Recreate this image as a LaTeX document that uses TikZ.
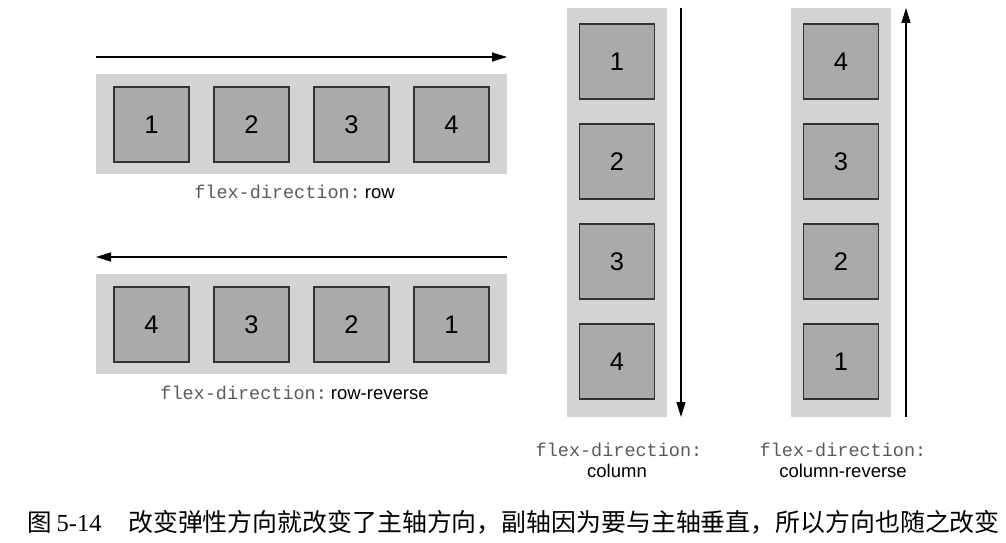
\documentclass[tikz,border=0pt]{standalone}
\usepackage{fontspec}
\setmainfont{Liberation Sans}
\newfontfamily\monof{Liberation Mono}
\newfontfamily\serif{Liberation Serif}
\newfontfamily\cjk{Noto Sans CJK SC}
\usetikzlibrary{arrows.meta}
\definecolor{cont}{HTML}{D3D3D3}
\definecolor{item}{HTML}{AAAAAA}
\definecolor{itemb}{HTML}{333333}
\definecolor{monoc}{HTML}{5A5A5A}
\tikzset{
  container/.style={fill=cont,draw=none,inner sep=0pt,outer sep=0pt},
  itembox/.style={fill=item,draw=itemb,line width=1.1pt,minimum size=75pt,inner sep=0pt,
    font=\fontsize{25.5}{28}\selectfont},
  axis/.style={line width=1.2pt,-{Triangle[length=15pt,width=9pt]}},
  lbl/.style={inner sep=0pt,font=\fontsize{18.5}{21}\selectfont,align=center},
}
\newcommand{\fd}{{\monof\color{monoc}flex-direction:}}
\begin{document}
\begin{tikzpicture}[x=1pt,y=-1pt]
\useasboundingbox (0,0) rectangle (1006,543);
% row
\node[container,minimum width=411pt,minimum height=100pt] (rowc) at (301.5,124) {};
\foreach \n/\x in {1/151.5,2/251.5,3/351.5,4/451.5}
  \node[itembox] (r\n) at (\x,124.5) {\n};
\coordinate (ra) at (96,57); \coordinate (rb) at (507,57);
\draw[axis] (ra) -- (rb);
\node[lbl,anchor=base] (rowl) at (294.5,198) {\fd\hspace{4pt}row};
% row-reverse
\node[container,minimum width=411pt,minimum height=100pt] (rrc) at (301.5,324) {};
\foreach \n/\x in {4/151.5,3/251.5,2/351.5,1/451.5}
  \node[itembox] (rr\n) at (\x,324.5) {\n};
\coordinate (rra) at (507,257); \coordinate (rrb) at (96,257);
\draw[axis] (rra) -- (rrb);
\node[lbl,anchor=base] (rrl) at (294.5,399) {\fd\hspace{4pt}row-reverse};
% column
\node[container,minimum width=100pt,minimum height=409pt] (cc) at (617,212.5) {};
\foreach \n/\y in {1/61.5,2/161.5,3/261.5,4/361.5}
  \node[itembox] (c\n) at (617,\y) {\n};
\coordinate (ca) at (681,8); \coordinate (cb) at (681,417);
\draw[axis] (ca) -- (cb);
\node[lbl,anchor=base] (cl1) at (619,456) {\fd};
\node[lbl,anchor=base] (cl2) at (617,477) {column};
% column-reverse
\node[container,minimum width=100pt,minimum height=409pt] (crc) at (841,212.5) {};
\foreach \n/\y in {4/61.5,3/161.5,2/261.5,1/361.5}
  \node[itembox] (cr\n) at (841,\y) {\n};
\coordinate (cra) at (906,417); \coordinate (crb) at (906,8);
\draw[axis] (cra) -- (crb);
\node[lbl,anchor=base] (crl1) at (843,456) {\fd};
\node[lbl,anchor=base] (crl2) at (843,477) {column-reverse};
% caption
\node[inner sep=0pt,anchor=base west,font=\fontsize{24.5}{28}\selectfont] (capn) at (27,531) {{\cjk 图}\hspace{5pt}{\serif 5-14}};
\node[inner sep=0pt,anchor=base west,font=\fontsize{24.9}{28}\selectfont\cjk] (capt) at (128,531) {改变弹性方向就改变了主轴方向，副轴因为要与主轴垂直，所以方向也随之改变};
\end{tikzpicture}
\end{document}
